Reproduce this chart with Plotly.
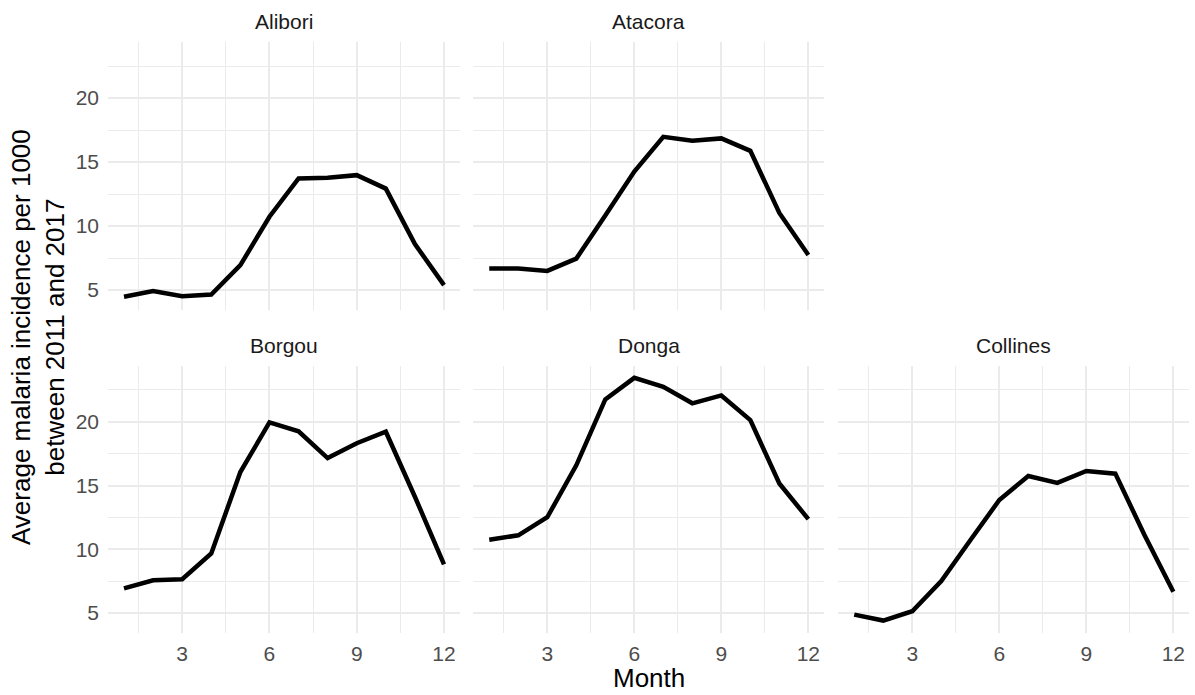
import plotly.graph_objects as go

months = list(range(1, 13))
regions = ["Alibori", "Atacora", "Borgou", "Donga", "Collines"]
alibori = [4.48, 4.92, 4.53, 4.66, 6.95, 10.73, 13.72, 13.77, 13.98, 12.93, 8.6, 5.39]
atacora = [6.68, 6.68, 6.5, 7.46, 10.82, 14.26, 16.97, 16.66, 16.85, 15.88, 11.03, 7.75]
borgou = [6.92, 7.56, 7.64, 9.66, 16.06, 19.95, 19.25, 17.15, 18.32, 19.22, 14.12, 8.81]
donga = [10.75, 11.09, 12.51, 16.58, 21.76, 23.45, 22.75, 21.45, 22.07, 20.13, 15.16, 12.36]
collines = [4.87, 4.40, 5.13, 7.51, 10.70, 13.86, 15.75, 15.21, 16.14, 15.93, 11.14, 6.66]
series = [alibori, atacora, borgou, donga, collines]

W, H = 1195, 695
FONT = "Liberation Sans, Arial, sans-serif"

# panel pixel boxes (left, right, top, bottom)
cols = [(108, 460), (473.3, 824.3), (838.3, 1189.3)]
rows = [(41.7, 310), (365.7, 632.7)]
placement = [(0, 0), (0, 1), (1, 0), (1, 1), (1, 2)]

allv = [v for s in series for v in s]
lo, hi = min(allv), max(allv)
pad = (hi - lo) * 0.05
yrange = [lo - pad, hi + pad]
xrange = [1 - 0.55, 12 + 0.55]

fig = go.Figure()
annotations = []
for i, (name, vals) in enumerate(zip(regions, series)):
    r, c = placement[i]
    idx = "" if i == 0 else str(i + 1)
    fig.add_trace(go.Scatter(x=months, y=vals, mode="lines",
                             line=dict(color="black", width=4.5),
                             xaxis="x" + idx, yaxis="y" + idx,
                             showlegend=False, hoverinfo="x+y"))
    (x0, x1), (t, b) = cols[c], rows[r]
    show_x = (r == 1)
    show_y = (c == 0)
    common_grid = dict(showgrid=True, gridcolor="#EBEBEB", gridwidth=2,
                       zeroline=False, showline=False, ticks="",
                       tickfont=dict(family=FONT, size=21, color="#4D4D4D"))
    fig.layout["xaxis" + idx] = dict(
        domain=[x0 / W, x1 / W], anchor="y" + idx, range=xrange,
        tickmode="linear", tick0=0, dtick=3, showticklabels=show_x,
        ticklabelstandoff=6,
        minor=dict(showgrid=True, gridcolor="#EBEBEB", gridwidth=1, tick0=1.5, dtick=3),
        **common_grid)
    fig.layout["yaxis" + idx] = dict(
        domain=[1 - b / H, 1 - t / H], anchor="x" + idx, range=yrange,
        tickmode="linear", tick0=0, dtick=5, showticklabels=show_y,
        ticklabelstandoff=8,
        minor=dict(showgrid=True, gridcolor="#EBEBEB", gridwidth=1, tick0=2.5, dtick=5),
        **common_grid)
    annotations.append(dict(text=name, x=(x0 + x1) / 2 / W, y=1 - (t - 20) / H,
                            xref="paper", yref="paper", showarrow=False,
                            xanchor="center", yanchor="middle",
                            font=dict(family=FONT, size=21, color="#1A1A1A")))

annotations.append(dict(text="Month", x=(108 + 1189.3) / 2 / W, y=0,
                        xref="paper", yref="paper", showarrow=False,
                        xanchor="center", yanchor="bottom",
                        font=dict(family=FONT, size=26, color="black")))
annotations.append(dict(text="Average malaria incidence per 1000<br>between 2011 and 2017",
                        x=38 / W, y=1 - 337 / H, xref="paper", yref="paper",
                        showarrow=False, textangle=-90, xanchor="center", yanchor="middle",
                        font=dict(family=FONT, size=26, color="black")))

fig.update_layout(width=W, height=H, margin=dict(l=0, r=0, t=0, b=0),
                  plot_bgcolor="white", paper_bgcolor="white",
                  annotations=annotations, showlegend=False)
fig.write_html("out.html", config={"displayModeBar": False},
               post_script="document.body.style.margin='0';document.body.style.overflow='hidden';")
